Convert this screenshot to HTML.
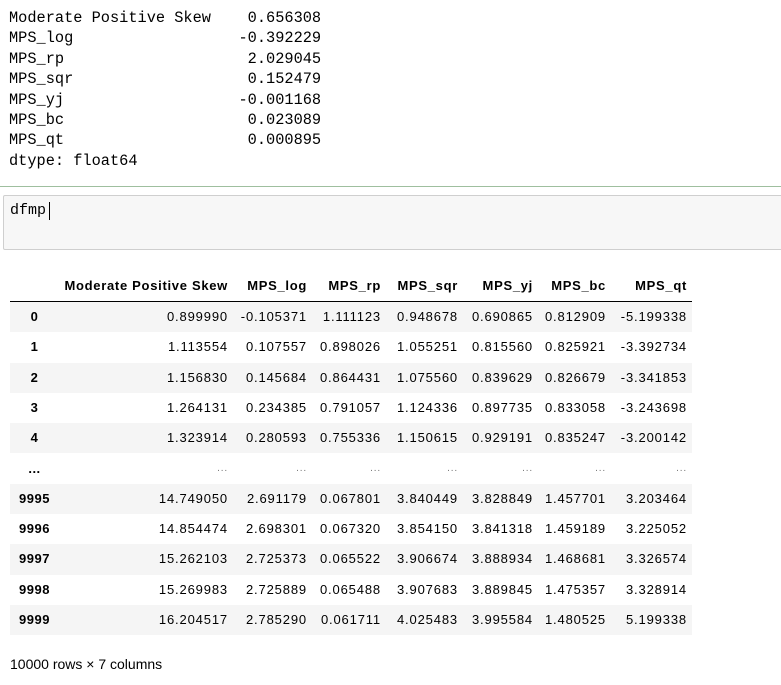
<!DOCTYPE html>
<html><head><meta charset="utf-8"><style>
body{margin:0;width:781px;height:685px;background:#fff;position:relative;overflow:hidden;font-family:"Liberation Sans",Arial,sans-serif;}
#out{position:absolute;left:9px;top:8px;margin:0;font-family:"Liberation Mono",monospace;font-size:15.3px;line-height:20.4px;color:#000;white-space:pre;}
#sep{position:absolute;left:0;top:186px;width:781px;height:1px;background:#9fbf9f;}
#inp{position:absolute;left:3px;top:195px;width:790px;height:53px;background:#f7f7f7;border:1px solid #cfcfcf;border-radius:2px;}
#inp span{position:absolute;left:6px;top:6px;font-family:"Liberation Mono",monospace;font-size:15px;color:#000;}
#inp i{position:absolute;left:45px;top:6px;width:1px;height:18px;background:#000;}
#tbl{position:absolute;left:10px;top:272px;width:682px;font-size:13px;color:#000;}
.row{position:absolute;left:0;width:682px;height:30.3px;}
.c{position:absolute;top:0;height:100%;line-height:30px;text-align:right;box-sizing:border-box;padding-right:5px;white-space:nowrap;letter-spacing:0.85px;}
.h .c{font-weight:bold;line-height:28px;letter-spacing:0.7px;}
.idx{text-align:center;padding-right:0;font-weight:bold;letter-spacing:0.5px;}
#foot{position:absolute;left:10px;top:656px;font-size:14px;color:#000;}
</style></head><body>
<pre id="out">Moderate Positive Skew    0.656308
MPS_log                  -0.392229
MPS_rp                    2.029045
MPS_sqr                   0.152479
MPS_yj                   -0.001168
MPS_bc                    0.023089
MPS_qt                    0.000895
dtype: float64</pre>
<div id="sep"></div>
<div id="inp"><span>dfmp</span><i></i></div>
<div id="tbl"></div>
<div id="foot">10000 rows × 7 columns</div>
<script>
const headers=["","Moderate Positive Skew","MPS_log","MPS_rp","MPS_sqr","MPS_yj","MPS_bc","MPS_qt"];
const indexLabels=["0","1","2","3","4","...","9995","9996","9997","9998","9999"];
const colMod=["0.899990","1.113554","1.156830","1.264131","1.323914","...","14.749050","14.854474","15.262103","15.269983","16.204517"];
const colLog=["-0.105371","0.107557","0.145684","0.234385","0.280593","...","2.691179","2.698301","2.725373","2.725889","2.785290"];
const colRp=["1.111123","0.898026","0.864431","0.791057","0.755336","...","0.067801","0.067320","0.065522","0.065488","0.061711"];
const colSqr=["0.948678","1.055251","1.075560","1.124336","1.150615","...","3.840449","3.854150","3.906674","3.907683","4.025483"];
const colYj=["0.690865","0.815560","0.839629","0.897735","0.929191","...","3.828849","3.841318","3.888934","3.889845","3.995584"];
const colBc=["0.812909","0.825921","0.826679","0.833058","0.835247","...","1.457701","1.459189","1.468681","1.475357","1.480525"];
const colQt=["-5.199338","-3.392734","-3.341853","-3.243698","-3.200142","...","3.203464","3.225052","3.326574","3.328914","5.199338"];
const cols=[indexLabels,colMod,colLog,colRp,colSqr,colYj,colBc,colQt];
const widths=[49,174,79,74,77,75,73,81];
const tbl=document.getElementById('tbl');
function mkRow(vals,top,isHead,shade){
  const r=document.createElement('div');r.className='row'+(isHead?' h':'');
  
  
  r.style.top=top+'px';
  if(isHead){r.style.height='29px';r.style.borderBottom='1px solid #000';}
  if(shade)r.style.background='#f5f5f5';
  let x=0;
  vals.forEach((v,i)=>{const c=document.createElement('div');c.className='c'+(i===0&&!isHead?' idx':'');
    
    
    c.style.left=x+'px';c.style.width=widths[i]+'px';c.textContent=v;
    if(v==='...'&&i>0){c.style.color='#777';c.style.fontSize='10px';}
    r.appendChild(c);x+=widths[i];});
  tbl.appendChild(r);
}
mkRow(headers,0,true,false);
for(let k=0;k<indexLabels.length;k++){
  mkRow(cols.map(c=>c[k]),30+k*30.3,false,k%2===0);
}
</script>
</body></html>
